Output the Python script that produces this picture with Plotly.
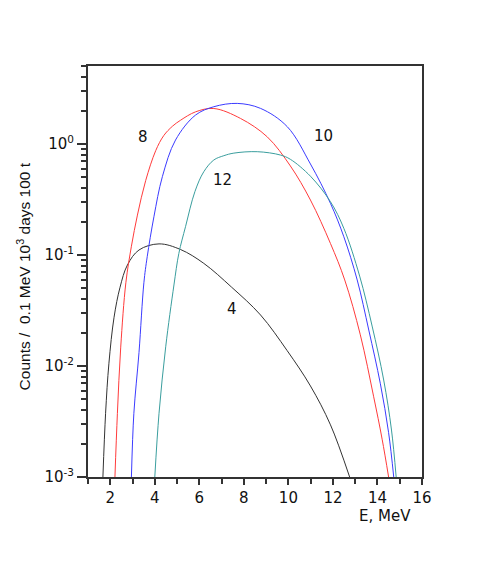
import math
import plotly.graph_objects as go

# Curve "4"
e4 = [1.67, 1.79, 1.94, 2.17, 2.44, 2.77, 3.29, 4.19, 5.16, 6.2, 7.45, 8.75, 9.94, 10.99, 11.89, 12.75]
c4 = [0.001, 0.00375, 0.0106, 0.0275, 0.0513, 0.0813, 0.111, 0.126, 0.112, 0.0841, 0.0513, 0.0288, 0.0138, 0.00661, 0.00295, 0.001]

# Curve "8"
e8 = [2.21, 2.32, 2.47, 2.70, 2.95, 3.22, 3.59, 4.04, 4.40, 4.79, 5.16, 5.83, 6.65, 7.85, 9.05, 10.09, 10.99, 11.89, 12.53, 13.23, 13.83, 14.21, 14.50]
c8 = [0.001, 0.00372, 0.0148, 0.0562, 0.120, 0.229, 0.468, 0.871, 1.19, 1.445, 1.64, 1.950, 2.09, 1.70, 1.16, 0.634, 0.313, 0.127, 0.0596, 0.0191, 0.00528, 0.00219, 0.001]

# Curve "10"
e10 = [2.95, 3.06, 3.29, 3.51, 3.66, 3.96, 4.34, 4.93, 5.83, 6.65, 7.70, 8.75, 9.95, 10.99, 11.89, 12.49, 13.09, 13.61, 14.13, 14.50, 14.73]
c10 = [0.001, 0.00375, 0.0132, 0.0562, 0.0966, 0.221, 0.508, 1.086, 1.824, 2.168, 2.323, 2.094, 1.432, 0.661, 0.292, 0.146, 0.0596, 0.0211, 0.00692, 0.00251, 0.001]

# Curve "12"
e12 = [4.0, 4.19, 4.49, 4.86, 5.08, 5.38, 5.80, 6.20, 6.65, 7.10, 7.55, 8.6, 9.64, 10.09, 10.99, 11.89, 12.49, 13.2, 13.76, 14.28, 14.63, 14.84]
c12 = [0.001, 0.00375, 0.0149, 0.0537, 0.1035, 0.180, 0.372, 0.563, 0.718, 0.785, 0.828, 0.853, 0.796, 0.728, 0.513, 0.302, 0.174, 0.0646, 0.0229, 0.00748, 0.00265, 0.001]

series = [
    ("4", e4, c4, "#333333"),
    ("8", e8, c8, "#ff3b3b"),
    ("10", e10, c10, "#3b3bff"),
    ("12", e12, c12, "#3a9e9e"),
]

# Curve labels (text, E, counts)
labels = [("8", 3.45, 1.156), ("10", 11.58, 1.18), ("12", 7.04, 0.474), ("4", 7.45, 0.0327)]

ytickvals = [0.001, 0.01, 0.1, 1]
yticktext = ["10<sup>-3</sup>", "10<sup>-2</sup>", "10<sup>-1</sup>", "10<sup>0</sup>"]
yminor = [m * 10 ** k for k in range(-3, 1) for m in range(2, 10)]
xtickvals = [2, 4, 6, 8, 10, 12, 14, 16]
xminor = [1, 3, 5, 7, 9, 11, 13, 15]

HFONT = "DejaVu Sans, Liberation Sans, sans-serif"
VFONT = "Liberation Sans, Arial, sans-serif"
INK = "#111111"
AX = "#333333"

fig = go.Figure()
for name, xs, ys, col in series:
    fig.add_trace(go.Scatter(x=xs, y=ys, mode="lines", name=name,
                             line=dict(color=col, width=1, shape="spline", smoothing=1.0),
                             showlegend=False, hoverinfo="skip"))

for t, x, y in labels:
    fig.add_annotation(x=x, y=math.log10(y), text=t, showarrow=False,
                       font=dict(family=HFONT, size=15, color=INK))

fig.add_annotation(xref="paper", yref="paper", x=0.889, y=-0.095, text="E, MeV",
                   xanchor="center", yanchor="middle",
                   showarrow=False, font=dict(family=HFONT, size=15, color=INK))
fig.add_annotation(xref="paper", yref="paper", x=-0.193, y=0.487,
                   xanchor="center", yanchor="middle",
                   text="Counts /  0.1 MeV 10<sup>3</sup> days 100 t", textangle=-90,
                   showarrow=False, font=dict(family=VFONT, size=15.5, color=INK))

fig.update_layout(
    width=475, height=556,
    margin=dict(l=80, r=61, t=58, b=87),
    paper_bgcolor="white", plot_bgcolor="white",
    font=dict(family=HFONT, size=15, color=INK),
    xaxis=dict(range=[1, 16], tickmode="array", tickvals=xtickvals,
               ticks="outside", ticklen=6, tickwidth=1.5, tickcolor=AX,
               minor=dict(tickmode="array", tickvals=xminor,
                          ticks="outside", ticklen=5, tickwidth=1.5, tickcolor=AX),
               showline=True, linecolor=AX, linewidth=2, mirror=True,
               showgrid=False, zeroline=False),
    yaxis=dict(type="log", range=[-3, 0.703], tickmode="array",
               tickvals=ytickvals, ticktext=yticktext,
               ticks="outside", ticklen=9, tickwidth=1.5, tickcolor=AX,
               minor=dict(tickmode="array", tickvals=yminor,
                          ticks="outside", ticklen=5, tickwidth=1.5, tickcolor=AX),
               showline=True, linecolor=AX, linewidth=2, mirror=True,
               showgrid=False, zeroline=False),
)

fig.write_html("out.html")
